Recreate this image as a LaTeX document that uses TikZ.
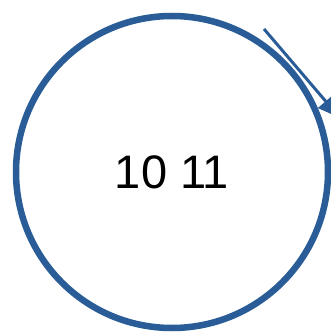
\documentclass[tikz,border=0pt]{standalone}
\usepackage{fontspec}
\setmainfont{Liberation Sans}
\usetikzlibrary{arrows.meta}
\definecolor{ringblue}{RGB}{42,92,152}
\tikzset{
  ring/.style={draw=ringblue, circle, line width=6.5pt, inner sep=0pt, minimum size=312pt,
    font=\fontsize{47}{55}\selectfont},
  pointer/.style={draw=ringblue, fill=ringblue, line width=3pt, -{Triangle[length=22pt,width=20pt]}}
}
\begin{document}
\begin{tikzpicture}[x=1pt, y=1pt]
    \useasboundingbox (0,0) rectangle (331,335);
    % Cercle
    \node[ring] (cycle) at (172,163) {10 11};
    % Flèche
    \coordinate (tail) at (264,306);
    \coordinate (tip) at (340,217);
    \draw[pointer] (tail) -- (tip);
\end{tikzpicture}
\end{document}
